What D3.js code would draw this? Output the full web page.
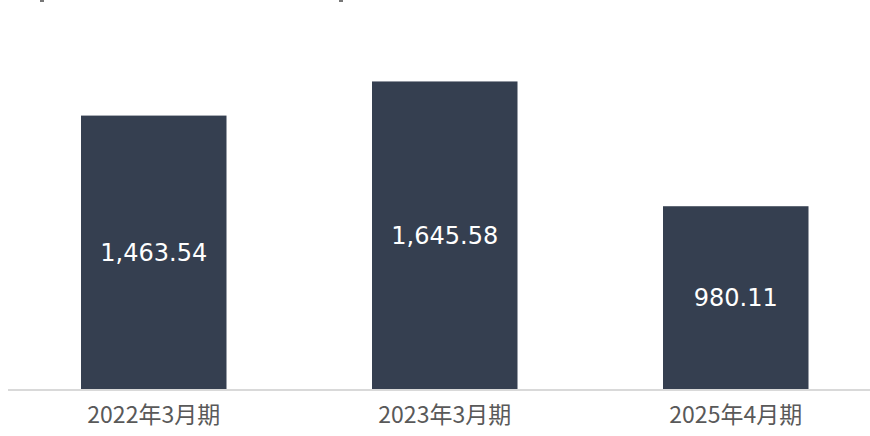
<!DOCTYPE html>
<html><head><meta charset="utf-8">
<script src="https://cdn.jsdelivr.net/npm/d3@7"></script>
<style>body{margin:0;background:#fff;}svg{display:block;}</style>
</head><body>
<svg id="c" width="870" height="436"></svg>
<script>
const categories = ["2022年3月期", "2023年3月期", "2025年4月期"];
const values = [1463.54, 1645.58, 980.11];
const valueLabels = ["1,463.54", "1,645.58", "980.11"];

const svg = d3.select("#c");
const x = d3.scaleBand().domain(categories).range([8.25, 881.25]).paddingInner(0.5).paddingOuter(0.25);
const y = d3.scaleLinear().domain([0, 2000]).range([390, 15]);

// cut-off title bracket marks at the very top
svg.append("rect").attr("x", 40).attr("y", 0).attr("width", 4).attr("height", 2).attr("fill", "#777");
svg.append("rect").attr("x", 339).attr("y", 0).attr("width", 4).attr("height", 2).attr("fill", "#777");

svg.selectAll("rect.bar").data(values).join("rect").attr("class", "bar")
  .attr("x", (d, i) => x(categories[i]))
  .attr("y", d => y(d))
  .attr("width", x.bandwidth())
  .attr("height", d => y(0) - y(d))
  .attr("fill", "#353f50");

svg.selectAll("text.val").data(values).join("text").attr("class", "val")
  .attr("x", (d, i) => x(categories[i]) + x.bandwidth() / 2)
  .attr("y", d => (y(d) + y(0)) / 2)
  .attr("text-anchor", "middle").attr("dominant-baseline", "central")
  .attr("fill", "#ffffff").style("font-family", "'DejaVu Sans', sans-serif").attr("font-size", 24)
  .text((d, i) => valueLabels[i]);

const ax = svg.append("g").attr("transform", "translate(0,390)")
  .call(d3.axisBottom(x).tickSize(0).tickPadding(0));
ax.select(".domain").attr("stroke", "#d9d9d9").attr("stroke-width", 2).attr("d", "M8,0H870");
ax.selectAll("text").attr("fill", "#595959").style("font-family", "'Noto Sans CJK JP', sans-serif")
  .attr("font-size", 23).attr("dy", null).attr("y", 23).attr("dominant-baseline", "central");
</script>
</body></html>
